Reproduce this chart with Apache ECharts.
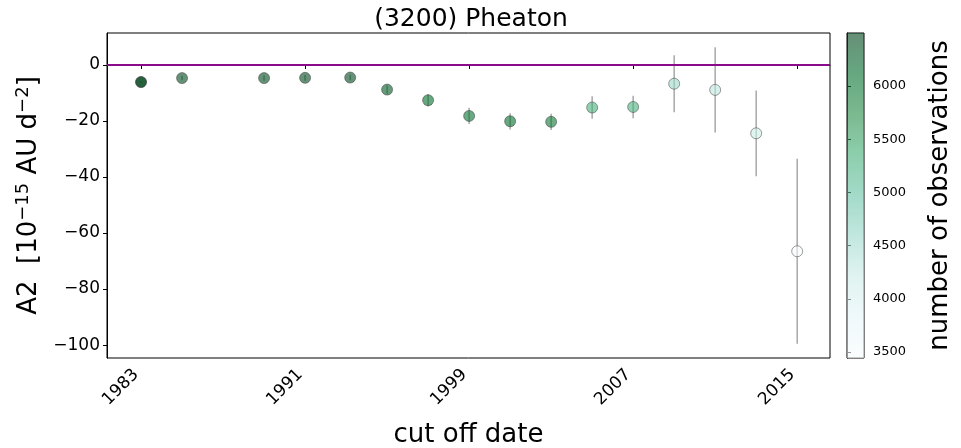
<!DOCTYPE html>
<html>
<head>
<meta charset="utf-8">
<script src="https://cdn.jsdelivr.net/npm/echarts@6/dist/echarts.min.js"></script>
<style>html,body{margin:0;padding:0;background:#fff}#c{width:961px;height:448px}</style>
</head>
<body>
<div id="c"></div>
<script>
// ---- data ----
var years = [1983, 1985, 1989, 1991, 1993.2, 1995, 1997, 1999, 2001, 2003, 2005, 2007, 2009, 2011, 2013, 2015];
var a2 = [-6.1, -4.7, -4.7, -4.6, -4.5, -8.8, -12.6, -18.2, -20.1, -20.3, -15.2, -15.0, -6.7, -8.9, -24.4, -66.5];
var a2err = [0.3, 0.8, 0.9, 1.0, 1.0, 1.5, 2.2, 2.9, 2.9, 2.9, 4.0, 4.0, 10.2, 15.2, 15.3, 33.0];
var nObs = [6498, 6450, 6450, 6450, 6440, 6300, 6100, 6050, 6100, 6000, 5300, 5280, 4570, 4330, 4200, 3444];
var xTicks = [1983, 1991, 1999, 2007, 2015];
var yTicks = [0, -20, -40, -60, -80, -100];
var cbTicks = [3500, 4000, 4500, 5000, 5500, 6000];
var cbRange = [3444, 6498];

// ---- styling helpers ----
var BuGn = ['#f7fcfd', '#e5f5f9', '#ccece6', '#99d8c9', '#66c2a4', '#41ae76', '#238b45', '#006d2c', '#00441b'];
var ALPHA = 0.6;
function hex2rgb(h) { return [parseInt(h.substr(1, 2), 16), parseInt(h.substr(3, 2), 16), parseInt(h.substr(5, 2), 16)]; }
function cmap(t) {
  t = Math.max(0, Math.min(1, t));
  var p = t * (BuGn.length - 1), i = Math.min(Math.floor(p), BuGn.length - 2), f = p - i;
  var a = hex2rgb(BuGn[i]), b = hex2rgb(BuGn[i + 1]);
  return [0, 1, 2].map(function (k) { return Math.round(a[k] + (b[k] - a[k]) * f); });
}
function rgba(c, al) { return 'rgba(' + c[0] + ',' + c[1] + ',' + c[2] + ',' + al + ')'; }
function plain(v) { return String(v).replace('-', '\u2212'); }

var pts = years.map(function (y, i) {
  var t = (nObs[i] - cbRange[0]) / (cbRange[1] - cbRange[0]);
  var op = i === 0 ? 0.85 : ALPHA;
  return {
    value: [y, a2[i]],
    itemStyle: { color: rgba(cmap(t), 1), opacity: op, borderColor: '#333', borderWidth: 0.8 }
  };
});
var errData = years.map(function (y, i) { return [y, a2[i] - a2err[i], a2[i] + a2err[i]]; });

var stops = BuGn.map(function (h, i) {
  return { offset: 1 - i / (BuGn.length - 1), color: rgba(hex2rgb(h), ALPHA) };
});

var FONT = 'DejaVu Sans';
var chart = echarts.init(document.getElementById('c'), null, { renderer: 'canvas' });
chart.setOption({
  animation: false,
  textStyle: { fontFamily: FONT, color: '#000' },
  title: {
    text: '(3200) Pheaton', left: 466, top: 2, textAlign: 'center',
    textStyle: { fontFamily: FONT, fontSize: 25, fontWeight: 'normal', color: '#000' }
  },
  grid: [
    { left: 107, right: 131, top: 33, bottom: 90, show: true, borderColor: '#000', borderWidth: 1, containLabel: false, outerBoundsMode: 'none' },
    { left: 847, width: 17, top: 33, bottom: 90, show: true, borderColor: '#000', borderWidth: 1, containLabel: false, outerBoundsMode: 'none' }
  ],
  xAxis: [
    {
      type: 'value', gridIndex: 0, min: 1981.34, max: 2016.6,
      name: 'cut off date', nameLocation: 'middle', nameGap: 64,
      nameTextStyle: { fontFamily: FONT, fontSize: 26, color: '#000' },
      axisLine: { show: true, lineStyle: { color: '#000', width: 1 } },
      axisTick: { show: true, inside: false, length: 4, customValues: xTicks, lineStyle: { color: '#000' } },
      axisLabel: { customValues: xTicks, rotate: 45, fontSize: 17, color: '#000', fontFamily: FONT, margin: 9, padding: [0, 7, 0, 0], formatter: function (v) { return plain(v); } },
      splitLine: { show: false }
    },
    { type: 'value', gridIndex: 1, min: 0, max: 1, show: false }
  ],
  yAxis: [
    {
      type: 'value', gridIndex: 0, min: -104.6, max: 11.4,
      name: 'A2  [10{sup|\u221215} AU d{sup|\u22122}]', nameLocation: 'middle', nameGap: 63,
      nameTextStyle: {
        fontFamily: FONT, fontSize: 26, color: '#000',
        rich: { sup: { fontFamily: FONT, fontSize: 18, color: '#000', verticalAlign: 'top', padding: [0, 0, 12, 0] } }
      },
      axisLine: { show: true, lineStyle: { color: '#000', width: 1 } },
      axisTick: { show: true, inside: false, length: 4, customValues: yTicks, lineStyle: { color: '#000' } },
      axisLabel: { customValues: yTicks, fontSize: 17, color: '#000', fontFamily: FONT, margin: 7, formatter: function (v) { return plain(v); } },
      splitLine: { show: false }
    },
    {
      type: 'value', gridIndex: 1, min: cbRange[0], max: cbRange[1], position: 'right',
      name: 'number of observations', nameLocation: 'middle', nameGap: 63, nameRotate: 90,
      nameTextStyle: { fontFamily: FONT, fontSize: 26, color: '#000' },
      axisLine: { show: true, lineStyle: { color: '#000', width: 1 } },
      axisTick: { show: true, inside: false, length: 4, customValues: cbTicks, lineStyle: { color: '#000' } },
      axisLabel: { customValues: cbTicks, fontSize: 13, color: '#000', fontFamily: FONT, margin: 9, formatter: function (v) { return plain(v); } },
      splitLine: { show: false }
    }
  ],
  series: [
    {
      type: 'custom', xAxisIndex: 0, yAxisIndex: 0, z: 2,
      data: errData,
      renderItem: function (params, api) {
        var p1 = api.coord([api.value(0), api.value(1)]);
        var p2 = api.coord([api.value(0), api.value(2)]);
        return { type: 'line', shape: { x1: p1[0], y1: p1[1], x2: p2[0], y2: p2[1] }, style: { stroke: '#a8a8a8', lineWidth: 1.5 } };
      }
    },
    {
      type: 'scatter', xAxisIndex: 0, yAxisIndex: 0, z: 3,
      symbolSize: 11,
      data: pts,
      markLine: {
        silent: true, symbol: 'none', label: { show: false },
        lineStyle: { color: '#8b0a8b', width: 2, type: 'solid' },
        data: [{ yAxis: 0 }]
      }
    },
    {
      type: 'custom', xAxisIndex: 1, yAxisIndex: 1, z: 1,
      data: [[0, cbRange[0], 1, cbRange[1]]],
      renderItem: function (params, api) {
        var a = api.coord([api.value(0), api.value(1)]);
        var b = api.coord([api.value(2), api.value(3)]);
        return {
          type: 'rect',
          shape: { x: a[0], y: b[1], width: b[0] - a[0], height: a[1] - b[1] },
          style: { fill: new echarts.graphic.LinearGradient(0, 0, 0, 1, stops) }
        };
      }
    }
  ]
});
</script>
</body>
</html>
